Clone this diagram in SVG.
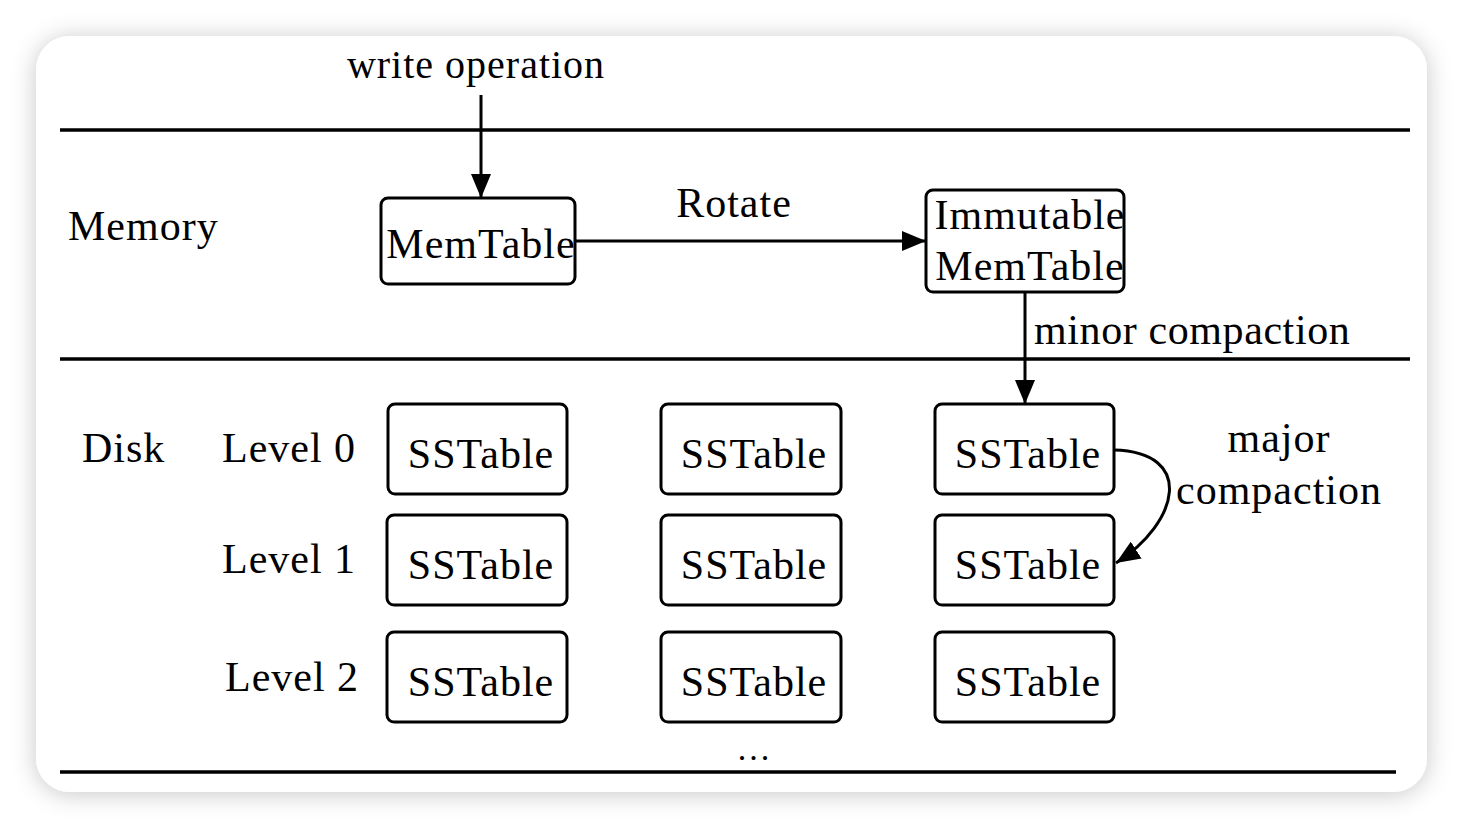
<svg xmlns="http://www.w3.org/2000/svg" width="1464" height="828" viewBox="0 0 1464 828">
<defs>
<filter id="sh" x="-10%" y="-10%" width="120%" height="120%">
<feDropShadow dx="0" dy="2" stdDeviation="12" flood-color="#000" flood-opacity="0.22"/>
</filter>
<marker id="ah2" viewBox="0 0 24 20" refX="24" refY="10" markerWidth="24" markerHeight="20" markerUnits="userSpaceOnUse" orient="auto">
<path d="M0,0 L24,10 L0,20 z" fill="#000"/>
</marker>
</defs>
<style>
text{font-family:"Liberation Serif","Times New Roman",serif;font-size:42px;fill:#000;letter-spacing:1px}
.c{text-anchor:middle}
.box{fill:#fff;stroke:#000;stroke-width:3}
.sep{stroke:#000;stroke-width:3.5}
.ln{fill:none;stroke:#000;stroke-width:3}
</style>
<rect width="1464" height="828" fill="#fff"/>
<rect x="36" y="36" width="1391" height="756" rx="34" fill="#fff" filter="url(#sh)"/>
<g id="separators">
<line class="sep" x1="60" y1="130" x2="1410" y2="130"/>
<line class="sep" x1="60" y1="359" x2="1410" y2="359"/>
<line class="sep" x1="60" y1="772" x2="1396" y2="772"/>
</g>
<g id="labels">
<text class="c" x="476" y="78" style="font-size:40px">write operation</text>
<text x="68" y="240">Memory</text>
<text x="82" y="462">Disk</text>
<text x="222" y="462">Level 0</text>
<text x="222" y="573">Level 1</text>
<text x="225" y="691">Level 2</text>
<text class="c" x="734" y="217">Rotate</text>
<text x="1034" y="344" style="letter-spacing:0.6px">minor compaction</text>
<text class="c" x="1279" y="452">major</text>
<text class="c" x="1279" y="504">compaction</text>
<text class="c" x="755" y="760" style="font-size:34px;letter-spacing:3px">...</text>
</g>
<g id="connectors">
<line class="ln" x1="481" y1="95" x2="481" y2="198" marker-end="url(#ah2)"/>
<line class="ln" x1="575" y1="241" x2="926" y2="241" marker-end="url(#ah2)"/>
<line class="ln" x1="1025" y1="292" x2="1025" y2="404" marker-end="url(#ah2)"/>
<path class="ln" d="M1114,450 C1195,452 1180,522 1116,563" marker-end="url(#ah2)"/>
</g>
<g id="memtable">
<rect class="box" x="381" y="198" width="194" height="86" rx="7"/>
<text class="c" x="481" y="258">MemTable</text>
</g>
<g id="immutable">
<rect class="box" x="926" y="190" width="198" height="102" rx="7"/>
<text class="c" x="1030" y="229">Immutable</text>
<text class="c" x="1030" y="280">MemTable</text>
</g>
<g id="sst-0-0"><rect class="box" x="388" y="404" width="179" height="90" rx="7"/><text class="c" x="481" y="468">SSTable</text></g>
<g id="sst-0-1"><rect class="box" x="661" y="404" width="180" height="90" rx="7"/><text class="c" x="754" y="468">SSTable</text></g>
<g id="sst-0-2"><rect class="box" x="935" y="404" width="179" height="90" rx="7"/><text class="c" x="1028" y="468">SSTable</text></g>
<g id="sst-1-0"><rect class="box" x="387" y="515" width="180" height="90" rx="7"/><text class="c" x="481" y="579">SSTable</text></g>
<g id="sst-1-1"><rect class="box" x="661" y="515" width="180" height="90" rx="7"/><text class="c" x="754" y="579">SSTable</text></g>
<g id="sst-1-2"><rect class="box" x="935" y="515" width="179" height="90" rx="7"/><text class="c" x="1028" y="579">SSTable</text></g>
<g id="sst-2-0"><rect class="box" x="387" y="632" width="180" height="90" rx="7"/><text class="c" x="481" y="696">SSTable</text></g>
<g id="sst-2-1"><rect class="box" x="661" y="632" width="180" height="90" rx="7"/><text class="c" x="754" y="696">SSTable</text></g>
<g id="sst-2-2"><rect class="box" x="935" y="632" width="179" height="90" rx="7"/><text class="c" x="1028" y="696">SSTable</text></g>
</svg>
